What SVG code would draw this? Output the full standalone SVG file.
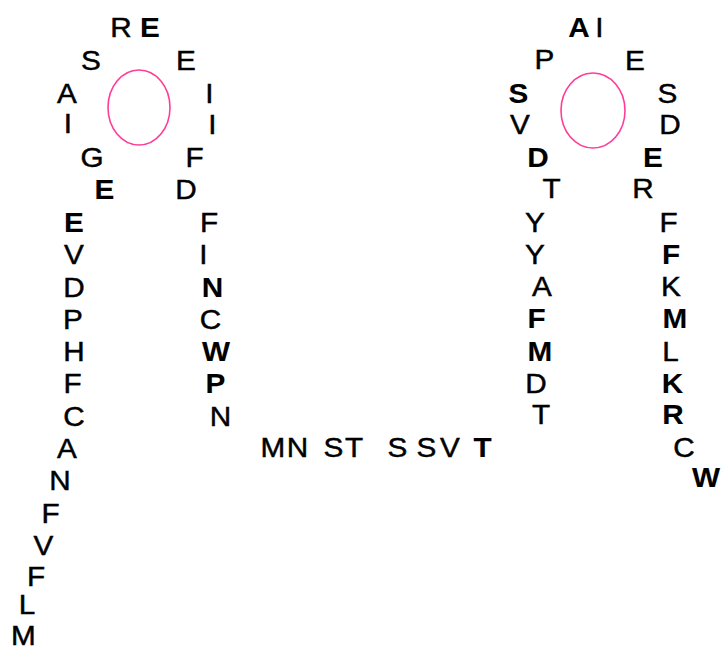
<svg xmlns="http://www.w3.org/2000/svg" width="722" height="651" viewBox="0 0 722 651">
  <style>
    text {
      font-family: "Liberation Sans", Arial, sans-serif; font-size: 27px; fill: #000;
      text-anchor: middle; stroke: #000; stroke-width: 0.45;
      transform-box: fill-box; transform-origin: center; transform: scaleX(1.1);
    }
    .b { font-weight: bold; stroke-width: 0.1; }
    .ring { fill: none; stroke: #ff3c96; stroke-width: 1.6; }
  </style>
  <rect width="722" height="651" fill="#fff"/>

  <!-- left loop -->
  <g id="loop-left">
    <ellipse class="ring" cx="139" cy="107.5" rx="31" ry="37.5"/>
    <text x="121" y="37">R</text>
    <text x="150" y="37" class="b">E</text>
    <text x="91" y="70">S</text>
    <text x="186" y="70">E</text>
    <text x="67" y="103">A</text>
    <text x="209.5" y="103">I</text>
    <text x="68" y="133">I</text>
    <text x="212.5" y="134">I</text>
    <text x="92" y="167">G</text>
    <text x="194.5" y="167">F</text>
    <text x="104.5" y="199" class="b">E</text>
    <text x="186" y="199">D</text>
  </g>

  <!-- left strand, descending column -->
  <g id="strand-left-outer">
    <text x="74" y="232" class="b">E</text>
    <text x="74" y="264">V</text>
    <text x="74" y="297">D</text>
    <text x="73" y="329">P</text>
    <text x="74" y="361">H</text>
    <text x="72.5" y="393">F</text>
    <text x="74" y="426">C</text>
    <text x="67" y="458">A</text>
    <text x="60" y="490">N</text>
    <text x="50.5" y="523">F</text>
    <text x="43.5" y="555">V</text>
    <text x="36" y="586">F</text>
    <text x="27" y="614.5">L</text>
    <text x="23.5" y="645">M</text>
  </g>

  <!-- left strand, inner column -->
  <g id="strand-left-inner">
    <text x="209" y="232">F</text>
    <text x="203.5" y="264">I</text>
    <text x="212.5" y="297" class="b">N</text>
    <text x="210.5" y="329">C</text>
    <text x="216" y="361" class="b">W</text>
    <text x="215.5" y="393" class="b">P</text>
    <text x="220.5" y="426">N</text>
  </g>

  <!-- linker -->
  <g id="linker">
    <text x="273" y="457">M</text>
    <text x="297.5" y="457">N</text>
    <text x="333.5" y="457">S</text>
    <text x="354" y="457">T</text>
    <text x="397.5" y="457">S</text>
    <text x="426.5" y="457">S</text>
    <text x="450" y="457">V</text>
    <text x="482.5" y="457" class="b">T</text>
  </g>

  <!-- right loop -->
  <g id="loop-right">
    <ellipse class="ring" cx="593" cy="110.5" rx="32" ry="37.5"/>
    <text x="579" y="37" class="b">A</text>
    <text x="599.5" y="37">I</text>
    <text x="544.5" y="69">P</text>
    <text x="635" y="70">E</text>
    <text x="518.5" y="103" class="b">S</text>
    <text x="667.5" y="103">S</text>
    <text x="520" y="134">V</text>
    <text x="670" y="134">D</text>
    <text x="538" y="167" class="b">D</text>
    <text x="653" y="167" class="b">E</text>
    <text x="551.5" y="198">T</text>
    <text x="643" y="198">R</text>
  </g>

  <!-- right strand, inner column -->
  <g id="strand-right-inner">
    <text x="535" y="232">Y</text>
    <text x="535" y="264">Y</text>
    <text x="542" y="296">A</text>
    <text x="536.5" y="328" class="b">F</text>
    <text x="540" y="361" class="b">M</text>
    <text x="536" y="393">D</text>
    <text x="541" y="424">T</text>
  </g>

  <!-- right strand, outer column -->
  <g id="strand-right-outer">
    <text x="668.5" y="232">F</text>
    <text x="671" y="264" class="b">F</text>
    <text x="671" y="296">K</text>
    <text x="675" y="328" class="b">M</text>
    <text x="670.5" y="361">L</text>
    <text x="672.5" y="393" class="b">K</text>
    <text x="673" y="424" class="b">R</text>
    <text x="684" y="457">C</text>
    <text x="706" y="487" class="b">W</text>
  </g>
</svg>
